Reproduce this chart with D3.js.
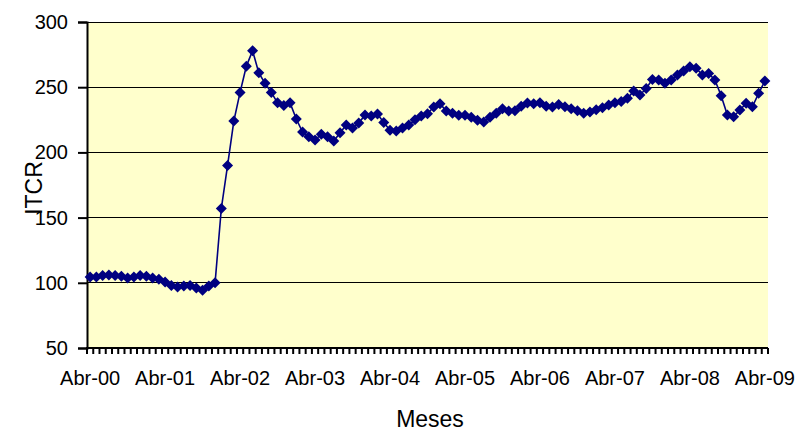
<!DOCTYPE html>
<html><head><meta charset="utf-8">
<script src="https://cdn.jsdelivr.net/npm/d3@7"></script>
<style>body{margin:0;background:#fff}svg{display:block}text{font-family:Arial,"Liberation Sans",sans-serif;fill:#000}</style>
</head><body><svg id="c" width="797" height="432"></svg>
<script>
// Data
const monthNames = ["Abr","May","Jun","Jul","Ago","Sep","Oct","Nov","Dic","Ene","Feb","Mar"];
const startYear = 0, nMonths = 109;
const months = [];
for (let i = 0; i < nMonths; i++) {
  const m = i % 12;
  const y = startYear + Math.floor((i + 3) / 12);
  months.push(monthNames[m] + "-" + String(y).padStart(2, "0"));
}
const itcr = [
  104.4,104.4,105.6,106,105.6,105,103.7,104.4,105.6,105,103.7,102.7,100.6,98,96.8,97.5,98,96,94.3,97.5,100,
  157,190,224,246,266,278,261,253,246,
  238,236,238,225.6,215.6,212,209.5,214,212,208.7,215,221,218.7,222.5,228.7,228,229.4,223,217,216.4,218.7,221,225,228,
  229.7,234.8,237.4,231.7,230,228.4,228.4,227,224.6,223.3,227,230,233.5,231.7,232,235.3,237.9,237.4,238,235.3,234.8,236.8,235,233.5,232,230,231,232.8,
  234.3,236.4,238,239,241.5,247,244,249,256,255.5,253,255.5,259.4,262.4,265.7,264.5,259.4,260.6,255.5,243.5,228.7,227.4,232.5,237.6,235,245.3,254.8
];
const xTickLabels = ["Abr-00","Abr-01","Abr-02","Abr-03","Abr-04","Abr-05","Abr-06","Abr-07","Abr-08","Abr-09"];
const yTicks = [50,100,150,200,250,300];

const svg = d3.select("#c");
const L = 87, R = 768, T = 22, B = 348;
const x = d3.scaleBand().domain(months).range([L, R]).padding(0);
const y = d3.scaleLinear().domain([50, 300]).range([B, T]);
const cx = d => x(d) + x.bandwidth() / 2;

// plot background
svg.append("rect").attr("x", L).attr("y", T).attr("width", R - L).attr("height", B - T).attr("fill", "#FFFFCC");

// gridlines
svg.append("g").selectAll("line").data(yTicks.filter(v => v > 50)).join("line")
  .attr("x1", L).attr("x2", R).attr("y1", d => y(d)).attr("y2", d => y(d))
  .attr("stroke", "#000").attr("stroke-width", 1).attr("shape-rendering", "crispEdges");

// y axis
const yAxis = d3.axisLeft(y).tickValues(yTicks).tickSize(9).tickPadding(10);
const gy = svg.append("g").attr("transform", `translate(${L},0)`).call(yAxis);
gy.select(".domain").attr("stroke", "#000").attr("stroke-width", 2);
gy.selectAll(".tick line").attr("stroke", "#000").attr("stroke-width", 2);
gy.selectAll(".tick text").attr("font-size", 20).style("font-family", "Arial, 'Liberation Sans', sans-serif").attr("fill", "#000");

// x axis
const gx = svg.append("g").attr("transform", `translate(0,${B})`);
gx.append("line").attr("x1", L - 1).attr("x2", R).attr("y1", 0).attr("y2", 0).attr("stroke", "#000").attr("stroke-width", 2);
const bounds = months.map(m => x(m)).concat([R]);
gx.selectAll("line.tk").data(bounds).join("line").attr("class", "tk")
  .attr("x1", d => d).attr("x2", d => d).attr("y1", 0).attr("y2", 6)
  .attr("stroke", "#000").attr("stroke-width", 2);
gx.selectAll("text.lab").data(xTickLabels).join("text").attr("class", "lab")
  .attr("x", d => cx(d)).attr("y", 37).attr("text-anchor", "middle").attr("font-size", 20).text(d => d);

// line
const line = d3.line().x((d, i) => cx(months[i])).y(d => y(d));
svg.append("path").datum(itcr).attr("d", line).attr("fill", "none").attr("stroke", "#000080").attr("stroke-width", 1.6);

// markers
const s = 5.5;
svg.append("g").selectAll("path").data(itcr).join("path")
  .attr("d", (d, i) => {
    const px = cx(months[i]), py = y(d);
    return `M${px},${py - s}L${px + s},${py}L${px},${py + s}L${px - s},${py}Z`;
  })
  .attr("fill", "#000080");

// axis titles
svg.append("text").attr("x", 430).attr("y", 427).attr("text-anchor", "middle").attr("font-size", 23).text("Meses");
svg.append("text").attr("transform", "translate(42,188) rotate(-90)").attr("text-anchor", "middle").attr("font-size", 23).text("ITCR");
</script></body></html>
